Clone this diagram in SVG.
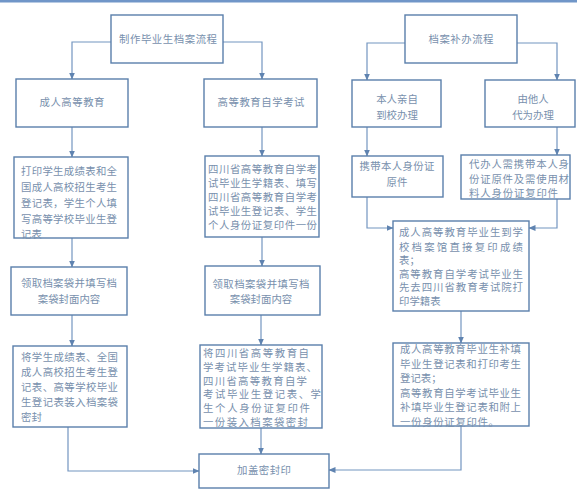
<svg xmlns="http://www.w3.org/2000/svg" width="577" height="500" viewBox="0 0 577 500">
<defs>
<marker id="ah" markerWidth="7" markerHeight="7" refX="6.5" refY="3.5" orient="auto" markerUnits="userSpaceOnUse">
<path d="M0,0.5 L7,3.5 L0,6.5 z" fill="#5f83b0"/>
</marker>
<style>
.box{fill:#ffffff;stroke:#5a7fab;stroke-width:1.4}
.t{font-family:"Noto Sans CJK SC","Noto Sans",sans-serif;font-size:10.4px;fill:#7890ad}
.c{text-anchor:middle}
.con{fill:none;stroke:#7395c0;stroke-width:1.2;marker-end:url(#ah)}
</style>
</defs>
<rect x="0" y="0" width="577" height="500" fill="#ffffff"/>
<rect x="0" y="0" width="577" height="2.5" fill="#7096c8"/>

<g id="connectors">
<path class="con" d="M111,42 H72 V79"/>
<path class="con" d="M223,42 H262 V79"/>
<path class="con" d="M72,127 V157"/>
<path class="con" d="M72,238 V267"/>
<path class="con" d="M72,315 V346"/>
<path class="con" d="M68,427 V471 H199"/>
<path class="con" d="M262,127 V156"/>
<path class="con" d="M262,237 V266"/>
<path class="con" d="M261,315 V345"/>
<path class="con" d="M261,428 V454"/>
<path class="con" d="M405,43 H367 V80"/>
<path class="con" d="M517,43 H557 V80"/>
<path class="con" d="M367,127 V156"/>
<path class="con" d="M557,127 V155"/>
<path class="con" d="M367,197 V228 H393"/>
<path class="con" d="M557,199 V228 H529"/>
<path class="con" d="M461,311 V343"/>
<path class="con" d="M461,426 V470 H329"/>
</g>

<g id="n-zhizuo">
<rect class="box" x="111" y="15" width="112" height="48"/>
<text class="t c" x="168" y="43" textLength="98" lengthAdjust="spacing">制作毕业生档案流程</text>
</g>
<g id="n-chengren">
<rect class="box" x="16" y="79" width="112" height="48"/>
<text class="t c" x="72" y="106" textLength="65" lengthAdjust="spacing">成人高等教育</text>
</g>
<g id="n-zikao">
<rect class="box" x="204" y="79" width="113" height="48"/>
<text class="t c" x="261" y="106" textLength="87" lengthAdjust="spacing">高等教育自学考试</text>
</g>
<g id="n-dayin">
<rect class="box" x="14" y="157" width="114" height="81"/>
<text class="t" x="21" y="175" textLength="96" lengthAdjust="spacing">打印学生成绩表和全</text>
<text class="t" x="21" y="191" textLength="96" lengthAdjust="spacing">国成人高校招生考生</text>
<text class="t" x="21" y="207" textLength="96" lengthAdjust="spacing">登记表，学生个人填</text>
<text class="t" x="21" y="223" textLength="96" lengthAdjust="spacing">写高等学校毕业生登</text>
<text class="t" x="21" y="238">记表</text>
</g>
<g id="n-sichuan">
<rect class="box" x="205" y="156" width="114" height="81"/>
<text class="t" x="208" y="173" textLength="109" lengthAdjust="spacing">四川省高等教育自学考</text>
<text class="t" x="208" y="187" textLength="109" lengthAdjust="spacing">试毕业生学籍表、填写</text>
<text class="t" x="208" y="201" textLength="109" lengthAdjust="spacing">四川省高等教育自学考</text>
<text class="t" x="208" y="215" textLength="109" lengthAdjust="spacing">试毕业生登记表、学生</text>
<text class="t" x="208" y="229" textLength="109" lengthAdjust="spacing">个人身份证复印件一份</text>
</g>
<g id="n-lingqu1">
<rect class="box" x="11" y="267" width="116" height="48"/>
<text class="t c" x="69" y="287" textLength="96" lengthAdjust="spacing">领取档案袋并填写档</text>
<text class="t c" x="69" y="303">案袋封面内容</text>
</g>
<g id="n-lingqu2">
<rect class="box" x="205" y="266" width="115" height="49"/>
<text class="t c" x="261" y="288" textLength="97" lengthAdjust="spacing">领取档案袋并填写档</text>
<text class="t c" x="261" y="303">案袋封面内容</text>
</g>
<g id="n-zhuangru1">
<rect class="box" x="13" y="346" width="114" height="81"/>
<text class="t" x="21" y="361" textLength="97" lengthAdjust="spacing">将学生成绩表、全国</text>
<text class="t" x="21" y="376" textLength="97" lengthAdjust="spacing">成人高校招生考生登</text>
<text class="t" x="21" y="391" textLength="97" lengthAdjust="spacing">记表、高等学校毕业</text>
<text class="t" x="21" y="406" textLength="97" lengthAdjust="spacing">生登记表装入档案袋</text>
<text class="t" x="21" y="421">密封</text>
</g>
<g id="n-zhuangru2">
<rect class="box" x="200" y="345" width="122" height="83"/>
<text class="t" x="203" y="357" textLength="106" lengthAdjust="spacing">将四川省高等教育自</text>
<text class="t" x="203" y="371" textLength="114" lengthAdjust="spacing">学考试毕业生学籍表、</text>
<text class="t" x="203" y="385" textLength="104" lengthAdjust="spacing">四川省高等教育自学</text>
<text class="t" x="203" y="398" textLength="118" lengthAdjust="spacing">考试毕业生登记表、学</text>
<text class="t" x="203" y="412" textLength="107" lengthAdjust="spacing">生个人身份证复印件</text>
<text class="t" x="203" y="426" textLength="105" lengthAdjust="spacing">一份装入档案袋密封</text>
</g>
<g id="n-jiagai">
<rect class="box" x="199" y="454" width="130" height="34"/>
<text class="t c" x="264" y="474" textLength="54" lengthAdjust="spacing">加盖密封印</text>
</g>
<g id="n-buban">
<rect class="box" x="405" y="15" width="112" height="48"/>
<text class="t c" x="461" y="43" textLength="65" lengthAdjust="spacing">档案补办流程</text>
</g>
<g id="n-benren">
<rect class="box" x="352" y="80" width="89" height="47"/>
<text class="t c" x="397" y="103">本人亲自</text>
<text class="t c" x="397" y="119">到校办理</text>
</g>
<g id="n-taren">
<rect class="box" x="485" y="80" width="90" height="47"/>
<text class="t c" x="533" y="103">由他人</text>
<text class="t c" x="533" y="119">代为办理</text>
</g>
<g id="n-xiedai">
<rect class="box" x="352" y="156" width="91" height="41"/>
<text class="t c" x="397" y="170" textLength="75" lengthAdjust="spacing">携带本人身份证</text>
<text class="t c" x="397" y="186">原件</text>
</g>
<g id="n-daiban">
<rect class="box" x="461" y="155" width="109" height="44"/>
<text class="t" x="469" y="168" textLength="100" lengthAdjust="spacing">代办人需携带本人身</text>
<text class="t" x="469" y="183" textLength="100" lengthAdjust="spacing">份证原件及需使用材</text>
<text class="t" x="469" y="197" textLength="89" lengthAdjust="spacing">料人身份证复印件</text>
</g>
<g id="n-fuyin">
<rect class="box" x="393" y="221" width="136" height="90"/>
<text class="t" x="399" y="236" textLength="124" lengthAdjust="spacing">成人高等教育毕业生到学</text>
<text class="t" x="399" y="251" textLength="124" lengthAdjust="spacing">校档案馆直接复印成绩</text>
<text class="t" x="399" y="264">表；</text>
<text class="t" x="399" y="278" textLength="124" lengthAdjust="spacing">高等教育自学考试毕业生</text>
<text class="t" x="399" y="291" textLength="124" lengthAdjust="spacing">先去四川省教育考试院打</text>
<text class="t" x="399" y="305">印学籍表</text>
</g>
<g id="n-butian">
<rect class="box" x="393" y="343" width="136" height="83"/>
<text class="t" x="400" y="353" textLength="121" lengthAdjust="spacing">成人高等教育毕业生补填</text>
<text class="t" x="400" y="368" textLength="121" lengthAdjust="spacing">毕业生登记表和打印考生</text>
<text class="t" x="400" y="382">登记表；</text>
<text class="t" x="400" y="397" textLength="121" lengthAdjust="spacing">高等教育自学考试毕业生</text>
<text class="t" x="400" y="411" textLength="121" lengthAdjust="spacing">补填毕业生登记表和附上</text>
<text class="t" x="400" y="426" textLength="99" lengthAdjust="spacing">一份身份证复印件。</text>
</g>
</svg>
